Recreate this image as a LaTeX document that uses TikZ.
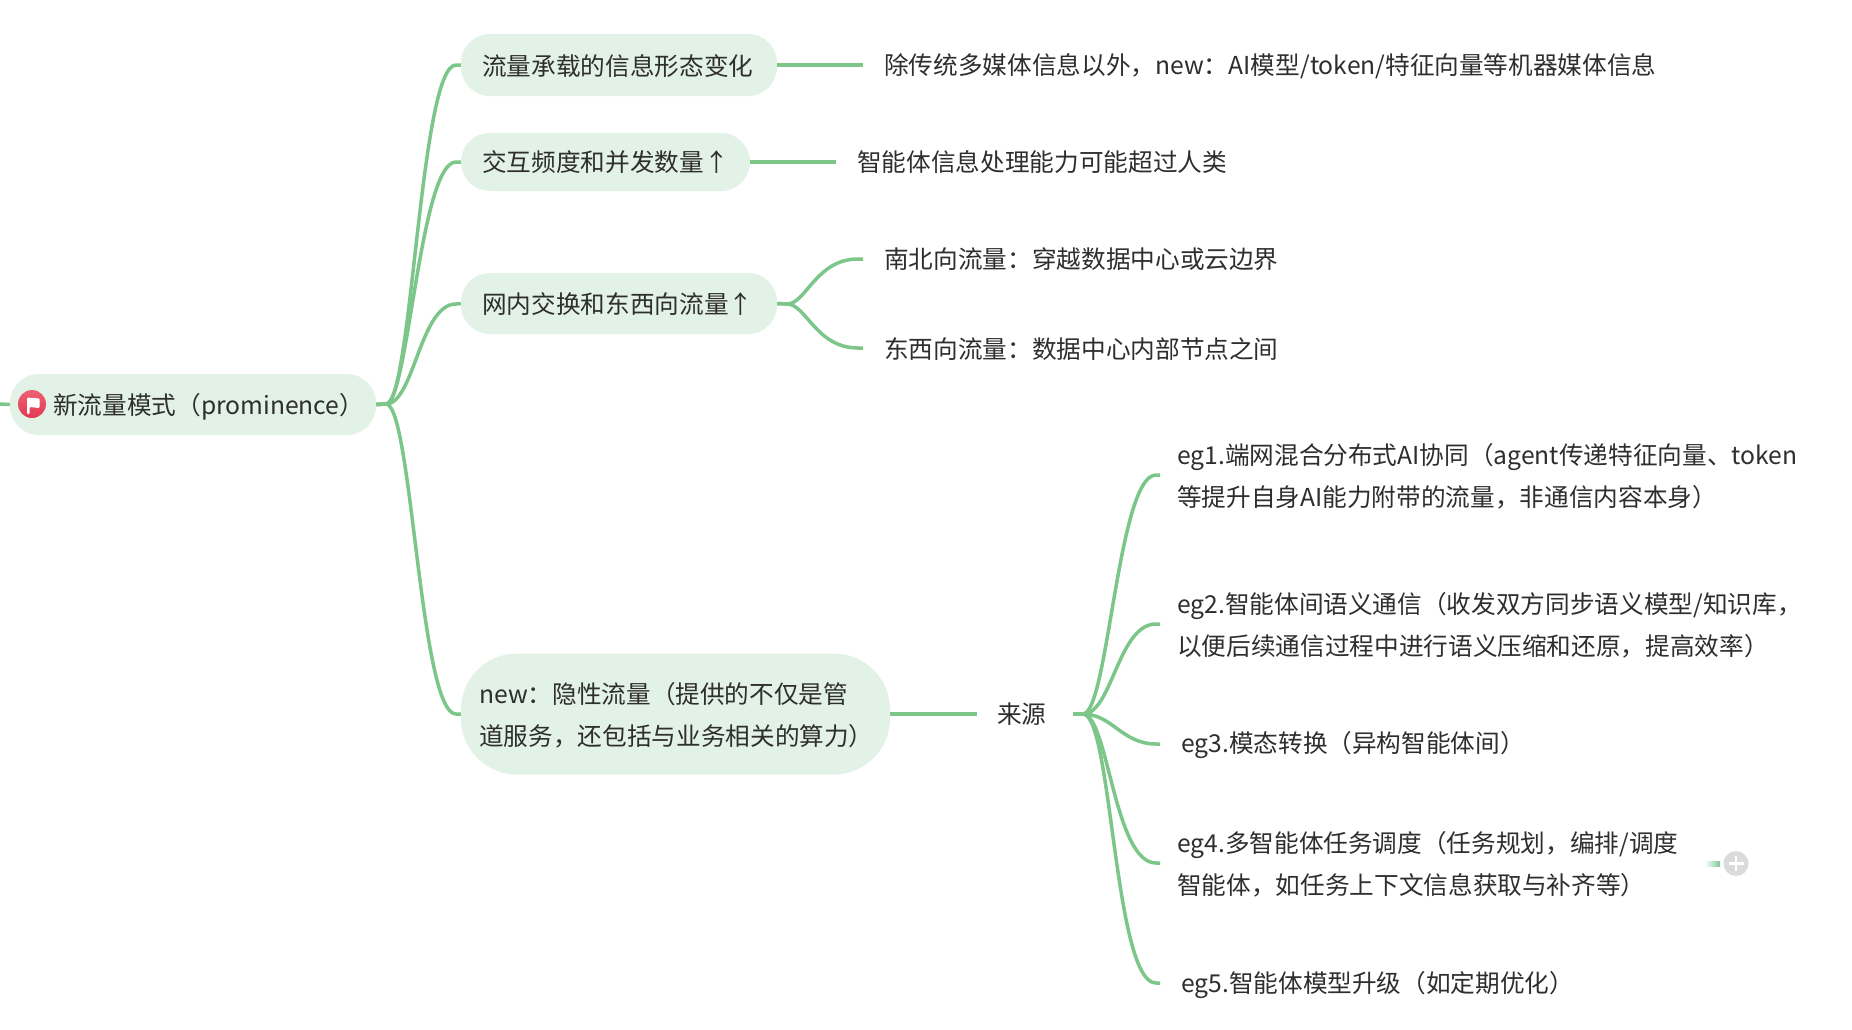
\documentclass[tikz,border=0pt]{standalone}
\usepackage{fontspec}
\setmainfont{Noto Sans CJK SC}
\definecolor{linkc}{HTML}{7CC68A}
\definecolor{pillc}{HTML}{E3F2E7}
\definecolor{textc}{HTML}{2E2E2E}
\definecolor{plusc}{HTML}{D9DCDB}
\definecolor{flagtop}{HTML}{EE6273}
\definecolor{flagbot}{HTML}{E23A52}
\tikzset{
  x=1pt,y=-1pt,
  link/.style={draw=linkc,line width=3.5pt},
  pill/.style={fill=pillc,rounded corners=28.9pt,inner sep=0pt,text=textc,align=left,
    font=\fontsize{24.65}{42}\selectfont},
  label/.style={anchor=west,inner sep=0pt,text=textc,align=left,
    font=\fontsize{24.65}{42}\selectfont},
}
\begin{document}
\begin{tikzpicture}
\useasboundingbox (0,0) rectangle (1852,1029);
\fill[white] (0,0) rectangle (1852,1029);
% nodes
\node[pill,minimum width=366pt,minimum height=61pt] (root) at (193,404.5) {};
\node[label] (roottext) at (53,406.5) {新流量模式（prominence）};
\node[circle,inner sep=0pt,minimum size=28pt,top color=flagtop,bottom color=flagbot] (flagicon) at (32,404) {};
\fill[white,rounded corners=1pt] (flagicon.center)++(-5,-6.5) -- ++(12.5,1) -- ++(0,9.5) -- ++(-10,-1) -- ++(0,7) -- ++(-2.5,0) -- cycle;
\node[pill,minimum width=316pt,minimum height=62pt] (a) at (619,65) {};
\node[label] (atxt) at (482,66) {流量承载的信息形态变化};
\node[pill,minimum width=289pt,minimum height=58pt] (b) at (605.5,162) {};
\node[label] (btxt) at (482,162.5) {交互频度和并发数量↑};
\node[pill,minimum width=316pt,minimum height=61pt] (c) at (619,303.5) {};
\node[label] (ctxt) at (482,304.5) {网内交换和东西向流量↑};
\node[pill,rounded corners=56pt,minimum width=429pt,minimum height=121pt] (d) at (675.5,714) {};
\node[label] (dtxt) at (479,715) {new：隐性流量（提供的不仅是管\\道服务，还包括与业务相关的算力）};
\node[label] (at) at (884,66) {除传统多媒体信息以外，new：AI模型/token/特征向量等机器媒体信息};
\node[label] (bt) at (857,162.5) {智能体信息处理能力可能超过人类};
\node[label] (c1) at (884,259.5) {南北向流量：穿越数据中心或云边界};
\node[label] (c2) at (884,349) {东西向流量：数据中心内部节点之间};
\node[label] (src) at (997,714.5) {来源};
\node[label] (e1) at (1177,476) {eg1.端网混合分布式AI协同（agent传递特征向量、token\\等提升自身AI能力附带的流量，非通信内容本身）};
\node[label] (e2) at (1177,625) {eg2.智能体间语义通信（收发双方同步语义模型/知识库，\\以便后续通信过程中进行语义压缩和还原，提高效率）};
\node[label] (e3) at (1181,745.5) {eg3.模态转换（异构智能体间）};
\node[label] (e4) at (1177,864.5) {eg4.多智能体任务调度（任务规划，编排/调度\\智能体，如任务上下文信息获取与补齐等）};
\node[label] (e5) at (1181,985) {eg5.智能体模型升级（如定期优化）};
\node[circle,fill=plusc,inner sep=0pt,minimum size=25pt] (plus) at (1736,863.5) {};
\draw[white,line width=2.6pt] (plus.center)++(-7.5,0) -- ++(15,0);
\draw[white,line width=2.6pt] (plus.center)++(0,-7.5) -- ++(0,15);
% free connector ends
\coordinate (stubl) at (0,404);
\coordinate (ae) at (863,65);
\coordinate (be) at (836,162);
\coordinate (c1e) at (863,259);
\coordinate (c2e) at (863,348);
\coordinate (de) at (977,714);
\coordinate (hubs) at (1073,714);
\coordinate (e1e) at (1160,475);
\coordinate (e2e) at (1160,624);
\coordinate (e3e) at (1160,744);
\coordinate (e4e) at (1160,863);
\coordinate (e5e) at (1160,983);
% connectors
\draw[link] (stubl) -- (root.west);
\draw[link] (root.east) -- (386,404) .. controls (412,404) and (420,65) .. (456,65) -- (a.west);
\draw[link] (root.east) -- (386,404) .. controls (408,404) and (420,162) .. (456,162) -- (b.west);
\draw[link] (root.east) -- (386,404) .. controls (414,404) and (420,304) .. (456,304) -- (c.west);
\draw[link] (root.east) -- (386,404) .. controls (412,404) and (420,714) .. (456,714) -- (d.west);
\draw[link] (a.east) -- (ae);
\draw[link] (b.east) -- (be);
\draw[link] (c.east) -- (787,304) .. controls (806,304) and (816,259) .. (858,259) -- (c1e);
\draw[link] (c.east) -- (787,304) .. controls (806,304) and (816,348) .. (858,348) -- (c2e);
\draw[link] (d.east) -- (de);
\draw[link] (hubs) -- (1083,714) .. controls (1108,714) and (1118,475) .. (1156,475) -- (e1e);
\draw[link] (hubs) -- (1083,714) .. controls (1112,714) and (1118,624) .. (1156,624) -- (e2e);
\draw[link] (hubs) -- (1083,714) .. controls (1112,714) and (1122,744) .. (1156,744) -- (e3e);
\draw[link] (hubs) -- (1083,714) .. controls (1108,714) and (1114,863) .. (1156,863) -- (e4e);
\draw[link] (hubs) -- (1083,714) .. controls (1112,714) and (1114,983) .. (1156,983) -- (e5e);
\fill[left color=white,right color=linkc] (1705,861.5) rectangle (1720,866);
\end{tikzpicture}
\end{document}
